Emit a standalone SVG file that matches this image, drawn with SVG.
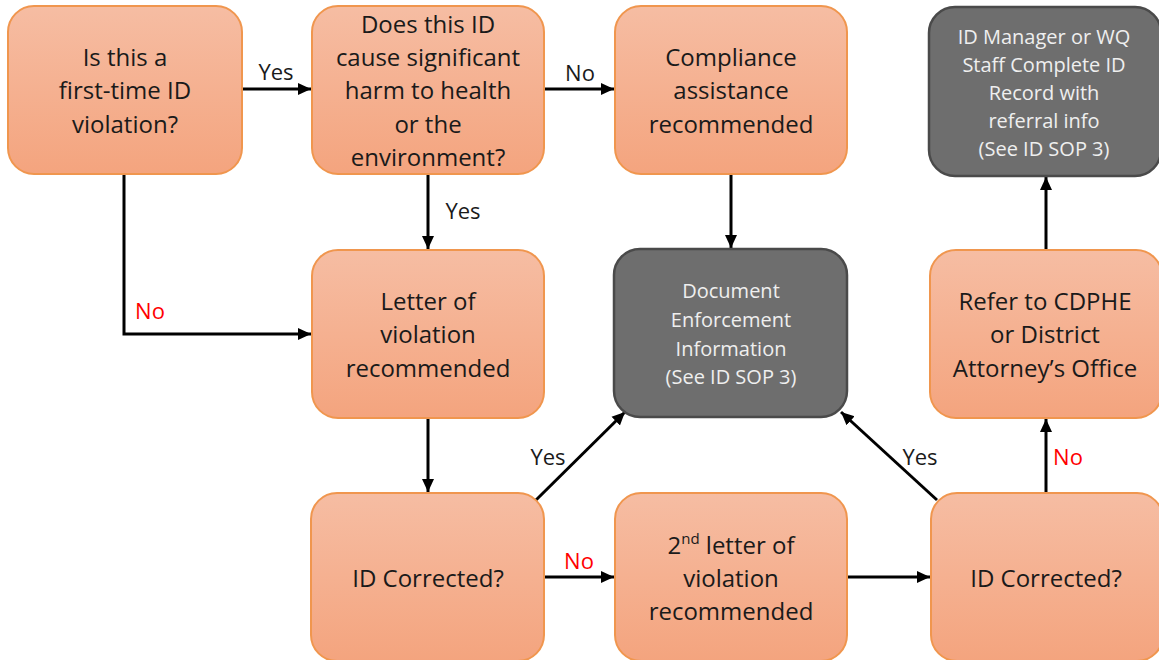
<svg xmlns="http://www.w3.org/2000/svg" width="1159" height="660" viewBox="0 0 1159 660">
<style>
.o rect{fill:url(#og);stroke:#F0964E;stroke-width:2}
.d rect{fill:#6E6E6E;stroke:#4A4A4A;stroke-width:2.5}
.o text{font-family:"Open Sans","Liberation Sans",sans-serif;font-size:24px;fill:#1a1a1a;text-anchor:middle}
.d text{font-family:"Open Sans","Liberation Sans",sans-serif;font-size:20px;fill:#EFEFEF;text-anchor:middle}
.c line,.c path{stroke:#000;stroke-width:3;fill:none;marker-end:url(#ah)}
.l{font-family:"Open Sans","Liberation Sans",sans-serif;font-size:22px;fill:#1a1a1a;text-anchor:middle}
.r{fill:#FF0000}
</style>
<defs>
<linearGradient id="og" x1="0" y1="0" x2="0" y2="1">
<stop offset="0" stop-color="#F6BDA3"/>
<stop offset="1" stop-color="#F4A47E"/>
</linearGradient>
<marker id="ah" markerUnits="userSpaceOnUse" markerWidth="14" markerHeight="14" viewBox="0 0 14 14" refX="13" refY="7" orient="auto">
<path d="M0,1 L13,7 L0,13 Z" fill="#000"/>
</marker>
</defs>
<rect width="1159" height="660" fill="#fff"/>
<g class="c" id="connectors">
<line x1="242" y1="89" x2="311" y2="89"/>
<line x1="544" y1="89" x2="614" y2="89"/>
<line x1="428" y1="174" x2="428" y2="249"/>
<path d="M124,174 V334 H311"/>
<line x1="731" y1="174" x2="731" y2="248"/>
<line x1="428" y1="418" x2="428" y2="492"/>
<line x1="536" y1="500" x2="625" y2="412"/>
<line x1="544" y1="577" x2="614" y2="577"/>
<line x1="847" y1="577" x2="930" y2="577"/>
<line x1="937" y1="500" x2="841" y2="412"/>
<line x1="1046" y1="493" x2="1046" y2="419"/>
<line x1="1046" y1="250" x2="1046" y2="177"/>
<text class="l" x="276" y="80">Yes</text>
<text class="l" x="580" y="81">No</text>
<text class="l" x="463" y="219">Yes</text>
<text class="l r" x="150" y="319">No</text>
<text class="l" x="548" y="465">Yes</text>
<text class="l r" x="579" y="569">No</text>
<text class="l" x="920" y="465">Yes</text>
<text class="l r" x="1068" y="465">No</text>
</g>
<g class="o" id="n1"><rect x="8" y="6" width="234" height="168" rx="26"/>
<text x="125" y="66">Is this a</text><text x="125" y="99">first-time ID</text><text x="125" y="133">violation?</text></g>
<g class="o" id="n2"><rect x="312" y="6" width="232" height="168" rx="26"/>
<text x="428" y="33">Does this ID</text><text x="428" y="66">cause significant</text><text x="428" y="99">harm to health</text><text x="428" y="133">or the</text><text x="428" y="166">environment?</text></g>
<g class="o" id="n3"><rect x="615" y="6" width="232" height="168" rx="26"/>
<text x="731" y="66">Compliance</text><text x="731" y="99">assistance</text><text x="731" y="133">recommended</text></g>
<g class="d" id="n4"><rect x="929" y="7" width="232" height="169" rx="26"/>
<text x="1044" y="44">ID Manager or WQ</text><text x="1044" y="72">Staff Complete ID</text><text x="1044" y="100">Record with</text><text x="1044" y="128">referral info</text><text x="1044" y="156">(See ID SOP 3)</text></g>
<g class="o" id="n5"><rect x="312" y="250" width="232" height="168" rx="26"/>
<text x="428" y="310">Letter of</text><text x="428" y="343">violation</text><text x="428" y="377">recommended</text></g>
<g class="d" id="n6"><rect x="614" y="249" width="233" height="168" rx="26"/>
<text x="731" y="298">Document</text><text x="731" y="327">Enforcement</text><text x="731" y="356">Information</text><text x="731" y="384">(See ID SOP 3)</text></g>
<g class="o" id="n7"><rect x="930" y="250" width="232" height="168" rx="26"/>
<text x="1045" y="310">Refer to CDPHE</text><text x="1045" y="343">or District</text><text x="1045" y="377">Attorney’s Office</text></g>
<g class="o" id="n8"><rect x="311" y="493" width="233" height="168" rx="26"/>
<text x="428" y="587">ID Corrected?</text></g>
<g class="o" id="n9"><rect x="615" y="493" width="232" height="168" rx="26"/>
<text x="731" y="554">2<tspan font-size="15" dy="-10">nd</tspan><tspan dy="10"> letter of</tspan></text><text x="731" y="587">violation</text><text x="731" y="620">recommended</text></g>
<g class="o" id="n10"><rect x="931" y="493" width="232" height="168" rx="26"/>
<text x="1046" y="587">ID Corrected?</text></g>
</svg>
